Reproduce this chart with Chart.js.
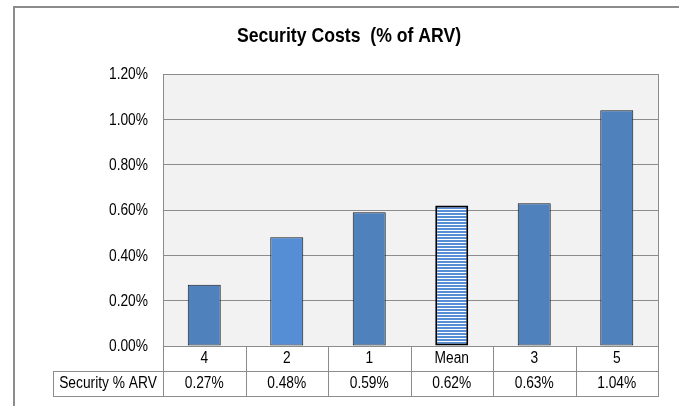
<!DOCTYPE html>
<html>
<head>
<meta charset="utf-8">
<script src="https://cdn.jsdelivr.net/npm/chart.js@4.4.0/dist/chart.umd.min.js"></script>
<style>
  body { margin: 0; background: #fff; }
  canvas { display: block; }
</style>
</head>
<body>
<canvas id="grafico" width="679" height="406"></canvas>
<script>
// datos del grafico
const categorias = ['4', '2', '1', 'Mean', '3', '5']
const securityArv = [0.27, 0.48, 0.59, 0.62, 0.63, 1.04]
const serieLabel = 'Security % ARV'
const titulo = 'Security Costs  (% of ARV)'
const yMin = 0
const yMax = 1.2
const yPaso = 0.2

const fuente = '"Liberation Sans", Arial, sans-serif'

// texto estrecho (la fuente original es tipo Arial Narrow)
function textoEstrecho(g, texto, x, y, align, escala) {
  g.save()
  g.translate(x, y)
  g.scale(escala, 1)
  g.textAlign = align
  g.textBaseline = 'middle'
  g.fillText(texto, 0, 0)
  g.restore()
}

// relleno a rayas para la barra Mean
function rayas() {
  const c = document.createElement('canvas')
  c.width = 4
  c.height = 3
  const g = c.getContext('2d')
  g.fillStyle = '#ffffff'
  g.fillRect(0, 0, 4, 3)
  g.fillStyle = '#558ED5'
  g.fillRect(0, 0, 4, 2)
  return g.createPattern(c, 'repeat')
}

const ctx = document.getElementById('grafico').getContext('2d')
const colores = categorias.map(c => {
  if (c === 'Mean') return rayas()
  if (c === '2') return '#558ED5'
  return '#4F81BD'
})
const bordes = categorias.map(c => c === 'Mean' ? 2 : 1)
const bordeColor = categorias.map(c => c === 'Mean' ? '#000000' : '#1a1a1a')

const fondo = {
  id: 'fondo',
  beforeDraw(chart) {
    const g = chart.ctx
    const a = chart.chartArea
    g.save()
    g.fillStyle = '#ffffff'
    g.fillRect(0, 0, chart.width, chart.height)
    // marco exterior
    g.strokeStyle = '#8c8c8c'
    g.lineWidth = 2
    g.beginPath()
    g.moveTo(14, chart.height)
    g.lineTo(14, 7)
    g.lineTo(chart.width, 7)
    g.stroke()
    // area del grafico
    g.fillStyle = '#F2F2F2'
    g.fillRect(a.left, a.top, a.right - a.left, a.bottom - a.top)
    // titulo
    g.fillStyle = '#000'
    g.font = 'bold 21px ' + fuente
    textoEstrecho(g, titulo, 349, 36, 'center', 0.84)
    g.restore()
  },
  afterDraw(chart) {
    const g = chart.ctx
    const a = chart.chartArea
    const x = chart.scales.x
    const y = chart.scales.y
    const ancho = (a.right - a.left) / categorias.length
    const fila1 = a.bottom
    const fila2 = a.bottom + 25
    const fin = a.bottom + 50
    const izq = 53
    g.save()
    g.strokeStyle = '#8c8c8c'
    g.lineWidth = 1
    g.beginPath()
    // borde derecho del area
    g.moveTo(a.right + 0.5, a.top)
    g.lineTo(a.right + 0.5, fin)
    // lineas de la tabla
    g.moveTo(izq, fila2 + 0.5)
    g.lineTo(a.right + 1, fila2 + 0.5)
    g.moveTo(izq, fin + 0.5)
    g.lineTo(a.right + 1, fin + 0.5)
    g.moveTo(izq + 0.5, fila2)
    g.lineTo(izq + 0.5, fin)
    for (let i = 0; i <= categorias.length; i++) {
      const px = Math.round(a.left + i * ancho) + 0.5
      g.moveTo(px, fila1)
      g.lineTo(px, fin)
    }
    g.stroke()
    g.fillStyle = '#000'
    g.font = '16px ' + fuente
    categorias.forEach((c, i) => {
      const cx = x.getPixelForValue(i)
      textoEstrecho(g, c, cx, fila1 + 13, 'center', 0.86)
      textoEstrecho(g, securityArv[i].toFixed(2) + '%', cx, fila2 + 13, 'center', 0.86)
    })
    textoEstrecho(g, serieLabel, (izq + a.left) / 2, fila2 + 13, 'center', 0.86)
    // etiquetas del eje y
    y.ticks.forEach(t => {
      textoEstrecho(g, t.value.toFixed(2) + '%', 148, y.getPixelForValue(t.value) + 1, 'right', 0.86)
    })
    g.restore()
  }
}

const chart = new Chart(ctx, {
  type: 'bar',
  data: {
    labels: categorias,
    datasets: [{
      label: serieLabel,
      data: securityArv,
      backgroundColor: colores,
      borderColor: bordeColor,
      borderWidth: bordes,
      borderSkipped: false,
      categoryPercentage: 1,
      barPercentage: 0.4
    }]
  },
  options: {
    responsive: false,
    animation: false,
    devicePixelRatio: 1,
    layout: { padding: { left: 0, top: 74, right: 21, bottom: 60 } },
    plugins: {
      legend: { display: false },
      title: { display: false },
      tooltip: { enabled: false }
    },
    scales: {
      x: { display: false },
      y: {
        min: yMin,
        max: yMax,
        afterFit(scale) { scale.width = 163 },
        ticks: { stepSize: yPaso, display: false },
        grid: { color: '#8c8c8c', drawTicks: false },
        border: { color: '#8c8c8c' }
      }
    }
  },
  plugins: [fondo]
})
</script>
</body>
</html>
